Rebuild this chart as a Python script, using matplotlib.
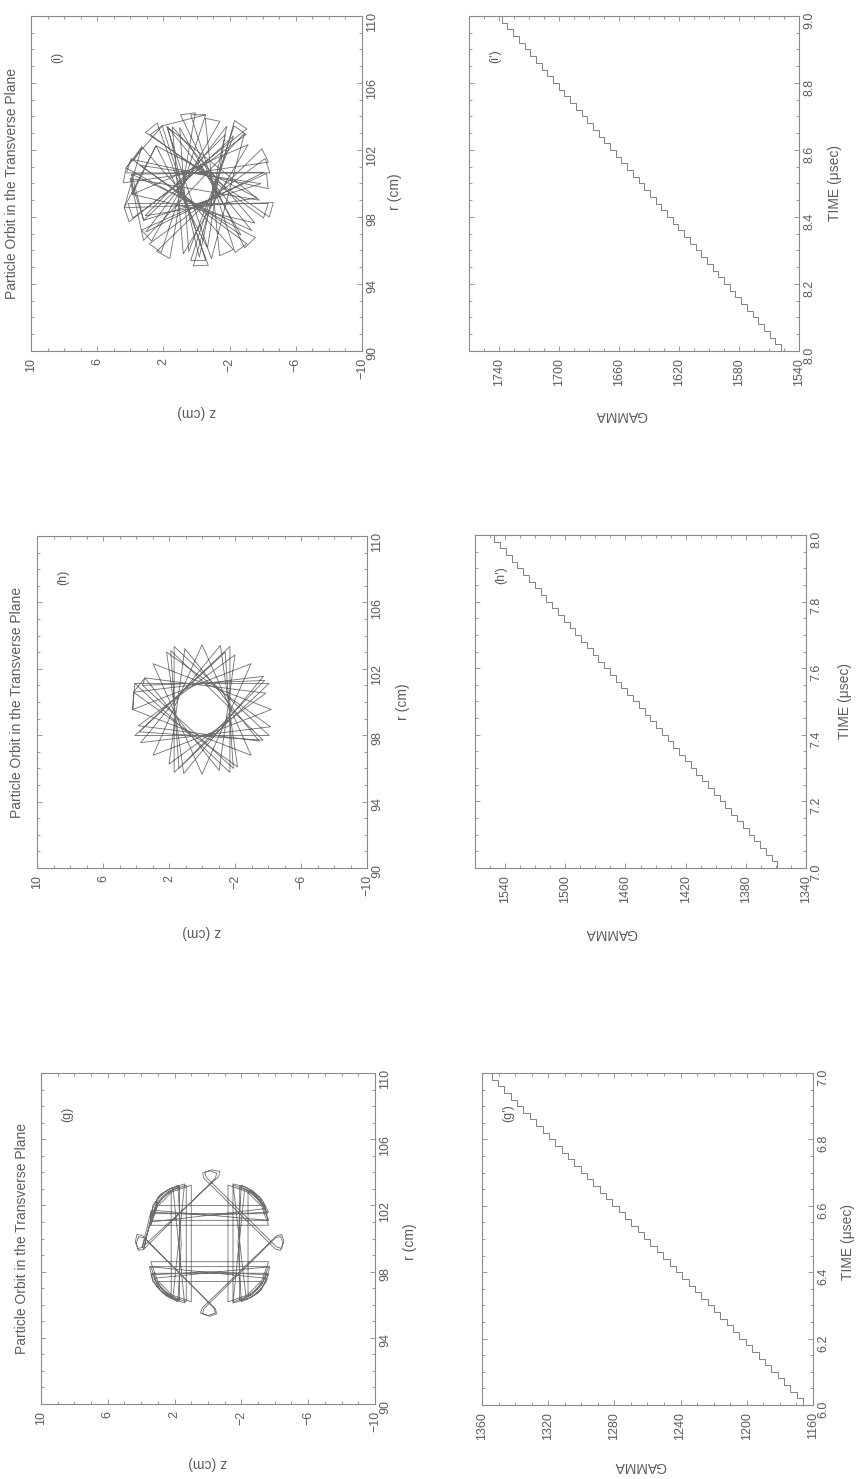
import numpy as np
import matplotlib
matplotlib.use("Agg")
import matplotlib.pyplot as plt
from matplotlib.ticker import FixedLocator, MultipleLocator, FormatStrFormatter

plt.rcParams['font.family'] = ['Liberation Sans', 'DejaVu Sans']

# particle orbits (z, r) in cm
orbit_g = [(3.36,101.5),(-3.56,101.5),(-3.2,102.23),(-2.63,102.8),(-1.9,103.16),(-1.9,96.24),(-2.63,96.6),(-3.2,97.17),
           (-3.56,97.9),(3.36,97.9),(3.0,97.17),(2.43,96.6),(1.7,96.24),(1.7,103.16),(2.43,102.8),(3.0,102.23),
           (3.36,101.5),
           (3.85,99.35),(-0.45,103.65),(-0.52,103.95),(-0.1,104.1),(0.32,103.95),(0.25,103.65),(-4.05,99.35),
           (-4.35,99.28),(-4.5,99.7),(-4.35,100.12),(-4.05,100.05),(0.25,95.75),(0.32,95.45),(-0.1,95.3),(-0.52,95.45),
           (-0.45,95.75),(3.85,100.05),(4.15,100.12),(4.3,99.7),(4.15,99.28),(3.85,99.35),
           (3.43,101.1),(-3.63,101.1),(-3.25,102.09),(-2.49,102.85),(-1.5,103.23),(-1.5,96.17),(-2.49,96.55),(-3.25,97.31),
           (-3.63,98.3),(3.43,98.3),(3.05,97.31),(2.29,96.55),(1.3,96.17),(1.3,103.23),(2.29,102.85),(3.05,102.09),
           (3.43,101.1),
           (3.42,101.6),(-0.1,101.4),(-3.62,101.6),(-3.27,102.31),(-2.71,102.87),(-2.0,103.22),(-1.8,99.7),(-2.0,96.18),
           (-2.71,96.53),(-3.27,97.09),(-3.62,97.8),(-0.1,98.0),(3.42,97.8),(3.07,97.09),(2.51,96.53),(1.8,96.18),
           (1.6,99.7),(1.8,103.22),(2.51,102.87),(3.07,102.31),(3.42,101.6),
           (3.95,99.45),(-0.65,103.75),(-0.7,104.05),(-0.25,104.15),(0.2,104.0),(0.1,103.7),(-4.1,99.5),(-4.4,99.4),
           (-4.55,99.85),(-4.4,100.25),(-4.1,100.15),(0.35,95.8),(0.45,95.5),(0.0,95.35),(-0.45,95.5),(-0.35,95.8),
           (3.95,100.2),(4.25,100.25),(4.35,99.8),(4.2,99.4),(3.95,99.45),
           (3.4,101.0),(-3.4,101.8),(-3.1,102.5),(-2.3,103.1),(-1.5,103.3),(-2.3,96.3),(-3.0,96.7),(-3.5,97.4),
           (-3.7,98.3),(3.2,97.6),(2.9,96.9),(2.2,96.4),(1.4,96.1),(2.1,103.1),(2.8,102.7),(3.3,102.0),
           (3.4,101.0),
           (3.05,102.0),(-3.25,102.0),(-2.89,102.49),(-2.4,102.85),(-2.4,96.55),(-2.89,96.91),(-3.25,97.4),(3.05,97.4),
           (2.69,96.91),(2.2,96.55),(2.2,102.85),(2.69,102.49),(3.05,102.0),
           (3.2,101.7),(-3.6,101.1),(-3.4,102.0),(-2.8,102.7),(-2.2,103.0),(-1.5,96.1),(-2.5,96.4),(-3.2,96.9),
           (-3.5,97.6),(3.5,98.3),(3.3,97.4),(2.7,96.7),(2.1,96.4),(1.4,103.3),(2.3,103.0),(3.0,102.5),
           (3.2,101.7),
           (3.43,100.8),(-3.63,100.8),(-3.22,101.95),(-2.35,102.82),(-1.2,103.23),(-1.2,96.17),(-2.35,96.58),(-3.22,97.45),
           (-3.63,98.6),(3.43,98.6),(3.02,97.45),(2.15,96.58),(1.0,96.17),(1.0,103.23),(2.15,102.82),(3.02,101.95),
           (3.43,100.8)]

orbit_h = [(4.07,101.12),(-4.07,101.12),(1.69,95.76),(1.69,103.34),(-4.07,97.98),(4.07,97.98),(-1.69,103.34),(-1.69,95.76),
           (4.07,101.12),(4.2,99.55),(-2.97,102.31),(0.0,95.65),(2.97,102.31),(-4.2,99.55),(2.97,96.79),(0.0,103.45),
           (-2.97,96.79),(4.2,99.55),(4.15,100.59),(-3.72,101.55),(1.11,95.69),(2.15,103.01),(-4.15,98.51),(3.72,97.55),
           (-1.11,103.41),(-2.15,96.09),(4.15,100.59),(3.46,101.45),(-3.86,100.53),(2.0,96.26),(1.04,103.22),(-3.46,97.65),
           (3.86,98.57),(-2.0,102.84),(-1.04,95.88),(3.46,101.45),(3.6,101.0),(-3.8,101.3),(1.4,96.0),(1.9,103.1),
           (-3.7,97.7),(3.8,98.2),(-1.4,103.0),(-1.9,96.0),(3.6,101.0)]

orbit_i = [(-0.55,104.1),(0.35,104.1),(-2.33,95.88),(-3.05,96.40),(3.95,101.49),(4.23,100.63),(-4.43,100.63),(-4.15,101.49),
           (2.85,96.40),(2.13,95.88),(-0.55,104.1),
           (2.07,103.44),(2.79,102.92),(-4.05,97.94),(-4.33,98.80),(4.13,98.80),(3.85,97.94),(-2.99,102.92),(-2.27,103.44),
           (0.35,95.4),(-0.55,95.4),(2.07,103.44),
           (4.26,100.92),(4.42,100.04),(-4.35,101.27),(-3.95,102.07),(2.41,95.94),(1.61,95.52),(0.07,104.22),(0.97,104.10),
           (-2.91,96.15),(-3.55,96.77),(4.26,100.92),
           (3.31,102.19),(3.77,101.41),(-4.33,99.69),(-4.23,100.59),(3.32,97.22),(2.72,96.56),(-1.41,103.71),(-0.53,103.89),
           (-1.40,95.69),(-2.22,96.05),(3.31,102.19),
           (4.37,98.55),(4.07,97.71),(-3.04,103.26),(-2.30,103.76),(0.19,95.08),(-0.71,95.12),(2.38,103.61),(3.08,103.05),
           (-4.40,98.00),(-4.64,98.86),(4.37,98.55),
           (2.45,102.25),(-3.66,99.14),(3.11,98.07),(-1.73,102.91),(-0.66,96.14),(2.45,102.25),
           (3.88,99.35),(-3.12,102.32),(0.80,95.80),(1.46,103.38),(-3.53,97.64),(3.88,99.35),
           (3.91,100.55),(-4.08,100.67),(3.07,97.10),(-1.83,103.42),(-0.17,95.6),(1.74,103.37),(-3.34,97.19),(3.91,100.55),
           (3.19,97.8),(-2.24,102.84),(0.47,95.94),(1.02,103.33),(-2.69,96.92),(3.44,101.09),(-3.89,99.99),(3.19,97.8),
           (4.0,100.3),(-3.8,99.0),(1.8,103.4),(-0.9,95.5),(-2.9,103.0),(3.2,96.6),(4.0,100.3)]

# gamma staircases: time in microseconds, gamma per turn
time_g = [6.00,6.02,6.04,6.06,6.08,6.10,6.12,6.14,6.16,6.18,6.20,6.22,6.24,6.26,6.28,6.30,6.32,6.34,6.36,6.38,
          6.40,6.42,6.44,6.46,6.48,6.50,6.52,6.54,6.56,6.58,6.60,6.62,6.64,6.66,6.68,6.70,6.72,6.74,6.76,6.78,
          6.80,6.82,6.84,6.86,6.88,6.90,6.92,6.94,6.96,6.98,7.00]
gamma_g = [1166.0,1169.8,1173.7,1177.5,1181.4,1185.2,1189.0,1192.9,1196.7,1200.6,1204.4,1208.2,1212.1,1215.9,1219.8,
           1223.6,1227.4,1231.3,1235.1,1239.0,1242.8,1246.6,1250.5,1254.3,1258.2,1262.0,1265.8,1269.7,1273.5,1277.4,
           1281.2,1285.0,1288.9,1292.7,1296.6,1300.4,1304.2,1308.1,1311.9,1315.8,1319.6,1323.4,1327.3,1331.1,1335.0,
           1338.8,1342.6,1346.5,1350.3,1354.2,1358.0]
time_h = [7.00,7.02,7.04,7.06,7.08,7.10,7.12,7.14,7.16,7.18,7.20,7.22,7.24,7.26,7.28,7.30,7.32,7.34,7.36,7.38,
          7.40,7.42,7.44,7.46,7.48,7.50,7.52,7.54,7.56,7.58,7.60,7.62,7.64,7.66,7.68,7.70,7.72,7.74,7.76,7.78,
          7.80,7.82,7.84,7.86,7.88,7.90,7.92,7.94,7.96,7.98,8.00]
gamma_h = [1359.0,1362.8,1366.7,1370.5,1374.4,1378.2,1382.0,1385.9,1389.7,1393.6,1397.4,1401.2,1405.1,1408.9,1412.8,
           1416.6,1420.4,1424.3,1428.1,1432.0,1435.8,1439.6,1443.5,1447.3,1451.2,1455.0,1458.8,1462.7,1466.5,1470.4,
           1474.2,1478.0,1481.9,1485.7,1489.6,1493.4,1497.2,1501.1,1504.9,1508.8,1512.6,1516.4,1520.3,1524.1,1528.0,
           1531.8,1535.6,1539.5,1543.3,1547.2,1551.0]
time_i = [8.00,8.02,8.04,8.06,8.08,8.10,8.12,8.14,8.16,8.18,8.20,8.22,8.24,8.26,8.28,8.30,8.32,8.34,8.36,8.38,
          8.40,8.42,8.44,8.46,8.48,8.50,8.52,8.54,8.56,8.58,8.60,8.62,8.64,8.66,8.68,8.70,8.72,8.74,8.76,8.78,
          8.80,8.82,8.84,8.86,8.88,8.90,8.92,8.94,8.96,8.98,9.00]
gamma_i = [1552.0,1555.8,1559.6,1563.4,1567.2,1571.0,1574.8,1578.6,1582.4,1586.2,1590.0,1593.8,1597.6,1601.4,1605.2,
           1609.0,1612.8,1616.6,1620.4,1624.2,1628.0,1631.8,1635.6,1639.4,1643.2,1647.0,1650.8,1654.6,1658.4,1662.2,
           1666.0,1669.8,1673.6,1677.4,1681.2,1685.0,1688.8,1692.6,1696.4,1700.2,1704.0,1707.8,1711.6,1715.4,1719.2,
           1723.0,1726.8,1730.6,1734.4,1738.2,1742.0]

z_ticks = [10, 6, 2, -2, -6, -10]
r_ticks = [90, 94, 98, 102, 106, 110]
gticks_g = [1360, 1320, 1280, 1240, 1200, 1160]
gticks_h = [1540, 1500, 1460, 1420, 1380, 1340]
gticks_i = [1740, 1700, 1660, 1620, 1580, 1540]

ink = '#5c5c5c'
frame = '#8a8a8a'
line_c = '#6e6e6e'

fig = plt.figure(figsize=(8.57, 14.79), dpi=100)


def style(ax):
    for s in ax.spines.values():
        s.set_color(frame)
        s.set_linewidth(0.8)
    ax.tick_params(which='both', direction='in', top=True, bottom=True, left=True, right=True,
                   labelleft=False, labelright=True, labelbottom=True, color=frame, width=0.6,
                   labelcolor=ink, labelsize=9)
    ax.tick_params(which='major', length=3.5, pad=5)
    ax.tick_params(which='minor', length=2.5)
    ax.tick_params(axis='y', pad=3)
    for lab in ax.get_xticklabels() + ax.get_yticklabels():
        lab.set_rotation(90)


def orbit_panel(rect, pts, tag, tx, xl_y, yl_x, yl_y):
    ax = fig.add_axes(rect)
    z, r = np.array(pts).T
    ax.plot(z, r, color=line_c, lw=0.6)
    ax.set_xlim(10, -10)
    ax.set_ylim(90, 110)
    ax.xaxis.set_major_locator(FixedLocator(z_ticks))
    ax.xaxis.set_minor_locator(MultipleLocator(1))
    ax.yaxis.set_major_locator(FixedLocator(r_ticks))
    ax.yaxis.set_minor_locator(MultipleLocator(1))
    style(ax)
    ax.set_xlabel('z (cm)', rotation=180, color=ink, fontsize=10, va='center', ha='center')
    ax.xaxis.set_label_coords(0.5, xl_y)
    ax.yaxis.set_label_position('right')
    ax.set_ylabel('r (cm)', rotation=90, color=ink, fontsize=10, va='center', ha='center')
    ax.yaxis.set_label_coords(yl_x, yl_y)
    ax.text(tx, 0.5, 'Particle Orbit in the Transverse Plane', transform=ax.transAxes,
            rotation=90, ha='center', va='center', color=ink, fontsize=10)
    ax.text(0.078, 0.875, tag, transform=ax.transAxes, rotation=90, ha='center', va='center',
            color=ink, fontsize=9)
    return ax


def gamma_panel(rect, t, g, xlim, gticks, tag, xl_x, xl_y, yl_x, yl_y):
    ax = fig.add_axes(rect)
    ax.plot(g, t, drawstyle='steps-pre', color=line_c, lw=0.6)
    ax.set_xlim(*xlim)
    ax.set_ylim(t[0], t[-1])
    ax.xaxis.set_major_locator(FixedLocator(gticks))
    ax.xaxis.set_minor_locator(MultipleLocator(10))
    ax.yaxis.set_major_locator(MultipleLocator(0.2))
    ax.yaxis.set_minor_locator(MultipleLocator(0.05))
    ax.yaxis.set_major_formatter(FormatStrFormatter('%.1f'))
    style(ax)
    ax.set_xlabel('GAMMA', rotation=180, color=ink, fontsize=10, va='center', ha='center')
    ax.xaxis.set_label_coords(xl_x, xl_y)
    ax.yaxis.set_label_position('right')
    ax.set_ylabel('TIME (\u03bcsec)', rotation=90, color=ink, fontsize=10, va='center', ha='center')
    ax.yaxis.set_label_coords(yl_x, yl_y)
    ax.text(0.08, 0.88, tag, transform=ax.transAxes, rotation=90, ha='center', va='center',
            color=ink, fontsize=9)
    return ax


orbit_panel([0.0362, 0.7627, 0.3862, 0.2265], orbit_i, '(i)', -0.057, -0.182, 1.10, 0.475)
orbit_panel([0.0432, 0.4131, 0.3851, 0.2245], orbit_h, '(h)', -0.060, -0.193, 1.109, 0.50)
orbit_panel([0.0478, 0.0507, 0.3897, 0.2238], orbit_g, '(g)', -0.057, -0.178, 1.105, 0.49)

gamma_panel([0.5473, 0.7627, 0.3851, 0.2265], time_i, gamma_i, (1760, 1540), gticks_i, "(i')", 0.46, -0.19, 1.109, 0.50)
gamma_panel([0.5543, 0.4131, 0.3862, 0.2252], time_h, gamma_h, (1560, 1340), gticks_h, "(h')", 0.41, -0.195, 1.118, 0.50)
gamma_panel([0.5624, 0.0500, 0.3862, 0.2245], time_g, gamma_g, (1360, 1160), gticks_g, "(g')", 0.477, -0.184, 1.106, 0.49)

fig.savefig('out.png', dpi=100)
